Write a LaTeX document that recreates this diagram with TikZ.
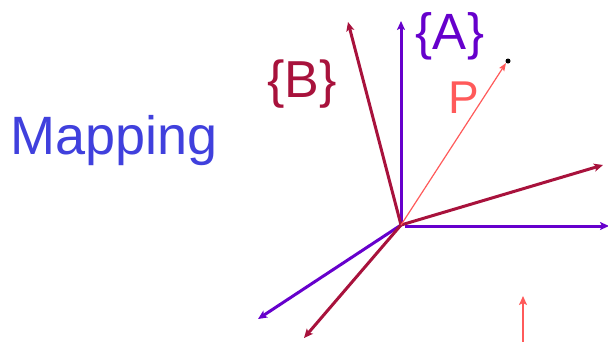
\documentclass[tikz,border=0pt]{standalone}
\usepackage{fontspec}
\setmainfont{Liberation Sans}
\usetikzlibrary{arrows.meta}
\definecolor{apurple}{HTML}{6600CC}
\definecolor{bred}{HTML}{A8123C}
\definecolor{psalmon}{HTML}{FF5A5A}
\definecolor{mapblue}{HTML}{4040DD}
\tikzset{
  aaxis/.style={draw=apurple, line width=3pt, -{Stealth[length=9pt,width=8pt,inset=2pt]}},
  baxis/.style={draw=bred, line width=3pt, -{Stealth[length=9pt,width=8pt,inset=2pt]}},
  pvec/.style={draw=psalmon, line width=1.2pt, -{Stealth[length=8pt,width=6pt,inset=1.5pt]}},
  lbl/.style={inner sep=0pt, anchor=base}
}
\begin{document}
\begin{tikzpicture}[x=1pt,y=-1pt]
\useasboundingbox (0,0) rectangle (608,341);
\coordinate (O) at (401,225);
\coordinate (OA) at (405,226);
% frame A
\coordinate (Ay) at (401,21);
\coordinate (Ax) at (609,226);
\coordinate (Az) at (258,319);
% frame B
\coordinate (By) at (348,22);
\coordinate (Bx) at (603,165);
\coordinate (Bz) at (304,338);
\coordinate (Ptip) at (506,63);
\coordinate (Q0) at (523,345);
\coordinate (Q1) at (523,296);
\draw[aaxis] (O) -- (Ay);
\draw[aaxis] (OA) -- (Ax);
\draw[aaxis] (O) -- (Az);
\draw[baxis] (O) -- (By);
\draw[baxis] (O) -- (Bx);
\draw[baxis] (O) -- (Bz);
\draw[pvec] (O) -- (Ptip);
\fill (508,61) circle (2.5pt) coordinate (Pdot);
\draw[pvec, line width=2.4pt, -{Stealth[length=9pt,width=8pt,inset=2pt]}] (Q0) -- (Q1);
\node[lbl, text=apurple, font=\fontsize{51}{51}\selectfont] (A) at (450,49) {\{A\}};
\node[lbl, text=bred, font=\fontsize{52}{52}\selectfont] (B) at (302,97) {\{B\}};
\node[lbl, text=psalmon, font=\fontsize{46}{46}\selectfont] (P) at (464,113) {P};
\node[inner sep=0pt, anchor=base west, text=mapblue, font=\fontsize{54}{54}\selectfont] (M) at (10,154) {Mapping};
\end{tikzpicture}
\end{document}
